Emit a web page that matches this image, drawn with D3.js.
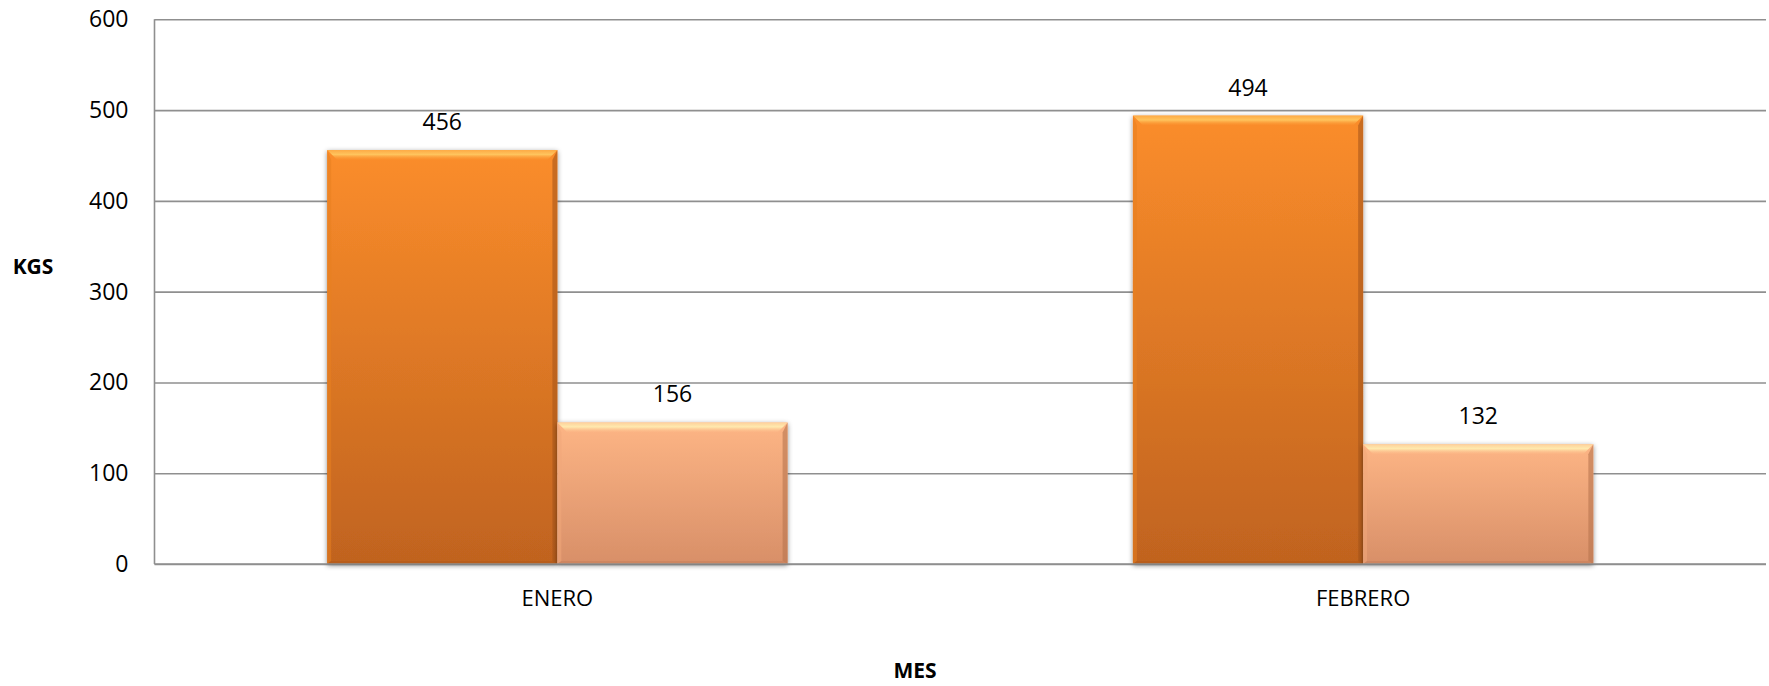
<!DOCTYPE html>
<html>
<head>
<meta charset="utf-8">
<script src="https://cdn.jsdelivr.net/npm/d3@7"></script>
<style>
  html, body { margin: 0; padding: 0; background: #ffffff; }
  svg { display: block; }
  text { font-family: "Open Sans", "Noto Sans", sans-serif; fill: #000; }
</style>
</head>
<body>
<svg id="chart" width="1769" height="686"></svg>
<script>
// ---- data ----
const categories = ["ENERO", "FEBRERO"];
const seriesA = [456, 494];
const seriesB = [156, 132];
const yTicks = [0, 100, 200, 300, 400, 500, 600];
const yTitle = "KGS";
const xTitle = "MES";

// ---- layout ----
const W = 1769, H = 686;
const plot = { left: 154.5, right: 1766, top: 19.3, bottom: 564 };
const svg = d3.select("#chart");

const y = d3.scaleLinear().domain([0, 600]).range([plot.bottom, plot.top]);
const x0 = d3.scaleBand().domain(categories).range([plot.left, plot.right]).padding(0);
const x1 = d3.scaleBand().domain([0, 1]).range([0, x0.bandwidth()]).paddingInner(0).paddingOuter(0.75);

const defs = svg.append("defs");
const styles = [
  { top: "#fb8d2b", bottom: "#c0631f", bevelTop: "#ffc760", left: "#e8801f", right: "#a9561a", bottomEdge: "#b25a1a" },
  { top: "#fdb585", bottom: "#d88f68", bevelTop: "#ffecb0", left: "#f0a87a", right: "#b8744f", bottomEdge: "#c7805c" }
];
styles.forEach((s, i) => {
  const g = defs.append("linearGradient").attr("id", "grad" + i)
    .attr("x1", 0).attr("y1", 0).attr("x2", 0).attr("y2", 1);
  g.append("stop").attr("offset", "0%").attr("stop-color", s.top);
  g.append("stop").attr("offset", "100%").attr("stop-color", s.bottom);
  const gt = defs.append("linearGradient").attr("id", "bev" + i)
    .attr("x1", 0).attr("y1", 0).attr("x2", 0).attr("y2", 1);
  gt.append("stop").attr("offset", "0%").attr("stop-color", s.bevelTop).attr("stop-opacity", 0.5);
  gt.append("stop").attr("offset", "45%").attr("stop-color", s.bevelTop).attr("stop-opacity", 0.95);
  gt.append("stop").attr("offset", "100%").attr("stop-color", s.top).attr("stop-opacity", 0.3);
});
const f = defs.append("filter").attr("id", "shadow")
  .attr("x", "-10%").attr("y", "-10%").attr("width", "120%").attr("height", "120%");
f.append("feDropShadow").attr("dx", 0).attr("dy", 1.5).attr("stdDeviation", 2.5)
  .attr("flood-color", "#000").attr("flood-opacity", 0.45);

// ---- gridlines and y axis ----
const yAxis = d3.axisLeft(y).tickValues(yTicks).tickSize(-(plot.right - plot.left)).tickPadding(26);
const gy = svg.append("g").attr("transform", `translate(${plot.left},0)`).call(yAxis);
gy.select(".domain").remove();
gy.selectAll(".tick line").attr("stroke", "#8f8f8f").attr("stroke-width", 1.6);
gy.selectAll(".tick text").style("font-size", "23px").attr("fill", "#000");
svg.append("line")
  .attr("x1", plot.left).attr("x2", plot.left)
  .attr("y1", y(600)).attr("y2", y(0))
  .attr("stroke", "#8f8f8f").attr("stroke-width", 1.6);

// ---- bars ----
const rows = categories.map((c, i) => ({ cat: c, vals: [seriesA[i], seriesB[i]] }));
const groups = svg.append("g").selectAll("g").data(rows).join("g")
  .attr("transform", d => `translate(${x0(d.cat)},0)`);

groups.each(function (d) {
  const g = d3.select(this);
  d.vals.forEach((v, si) => {
    const s = styles[si];
    const bx = x1(si), bw = x1.bandwidth();
    const by = y(v), bh = y(0) - y(v);
    const b = 10;
    const bar = g.append("g");
    bar.append("rect").attr("x", bx).attr("y", by).attr("width", bw).attr("height", bh)
      .attr("fill", `url(#grad${si})`).attr("filter", "url(#shadow)");
    // side bevels
    bar.append("polygon")
      .attr("points", [[bx, by], [bx + 4, by + b], [bx + 4, by + bh - 3], [bx, by + bh]].join(" "))
      .attr("fill", s.left).attr("opacity", 0.55);
    bar.append("polygon")
      .attr("points", [[bx + bw, by], [bx + bw - 5, by + b], [bx + bw - 5, by + bh - 3], [bx + bw, by + bh]].join(" "))
      .attr("fill", s.right).attr("opacity", 0.6);
    bar.append("polygon")
      .attr("points", [[bx, by + bh], [bx + 4, by + bh - 3], [bx + bw - 5, by + bh - 3], [bx + bw, by + bh]].join(" "))
      .attr("fill", s.bottomEdge).attr("opacity", 0.6);
    // top bevel
    bar.append("polygon")
      .attr("points", [[bx, by], [bx + bw, by], [bx + bw - b, by + b], [bx + b, by + b]].join(" "))
      .attr("fill", `url(#bev${si})`);
    // value label
    g.append("text").attr("x", bx + bw / 2).attr("y", by - 20)
      .attr("text-anchor", "middle").style("font-size", "23px").text(v);
  });
});

// ---- x axis ----
svg.append("line")
  .attr("x1", plot.left).attr("x2", plot.right)
  .attr("y1", y(0)).attr("y2", y(0))
  .attr("stroke", "#8f8f8f").attr("stroke-width", 1.6);
const xAxis = d3.axisBottom(x0).tickSize(0).tickPadding(26);
const gx = svg.append("g").attr("transform", `translate(0,${y(0)})`).call(xAxis);
gx.select(".domain").remove();
gx.selectAll(".tick text").style("font-size", "22px").attr("fill", "#000");

// ---- titles ----
svg.append("text").attr("x", 33).attr("y", 274).attr("text-anchor", "middle")
  .style("font-size", "21px").style("font-weight", "bold").text(yTitle);
svg.append("text").attr("x", 915).attr("y", 678).attr("text-anchor", "middle")
  .style("font-size", "21px").style("font-weight", "bold").text(xTitle);
</script>
</body>
</html>
